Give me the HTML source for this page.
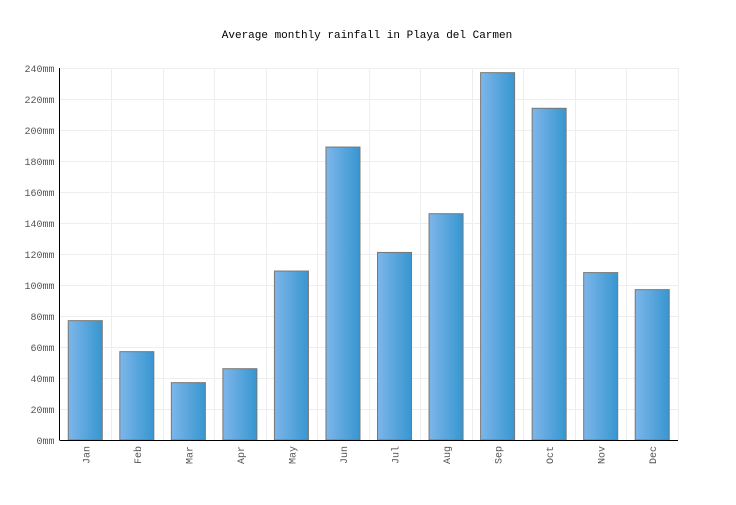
<!DOCTYPE html>
<html><head><meta charset="utf-8"><style>
body{margin:0;background:#fff}
text{font-family:"Liberation Mono",monospace}
</style></head><body>
<svg id="c" width="736" height="500" xmlns="http://www.w3.org/2000/svg">
<defs><linearGradient id="g" x1="0" x2="1" y1="0" y2="0"><stop offset="0" stop-color="#7db6ea"/><stop offset="1" stop-color="#3796d0"/></linearGradient></defs>
<text x="367" y="38" text-anchor="middle" font-size="11" fill="#000">Average monthly rainfall in Playa del Carmen</text>
<g id="grid"></g><g id="bars"></g><g id="axes"></g>
</svg>
<script>
const categories=["Jan","Feb","Mar","Apr","May","Jun","Jul","Aug","Sep","Oct","Nov","Dec"];
const rainfall=[77,57,37,46,109,189,121,146,237,214,108,97];
const yTicks=[0,20,40,60,80,100,120,140,160,180,200,220,240];
const NS="http://www.w3.org/2000/svg";
const L=59.5,R=678,T=68,B=440,yMax=240;
const y=v=>B-(v/yMax)*(B-T);
const band=(R-L)/categories.length;
const x=i=>L+i*band;
function mk(t,a,p){const e=document.createElementNS(NS,t);for(const k in a)e.setAttribute(k,a[k]);p.appendChild(e);return e;}
const grid=document.getElementById('grid'),bars=document.getElementById('bars'),axes=document.getElementById('axes');
yTicks.forEach(v=>{
 const ln=mk('line',{x1:L,x2:R,y1:Math.round(y(v))+0.5,y2:Math.round(y(v))+0.5,stroke:'#eeeeee'},grid);
 
 
 const t=mk('text',{x:L-5,y:y(v)+4,'text-anchor':'end','font-size':'10',fill:'#555'},axes);
 t.textContent=v+'mm';
 
 
});
for(let i=1;i<=categories.length;i++){
 const ln=mk('line',{x1:Math.round(x(i))+0.5,x2:Math.round(x(i))+0.5,y1:T,y2:B,stroke:'#eeeeee'},grid);
 
 
}
categories.forEach((c,i)=>{
 const bw=band*0.66,cx=x(i)+band/2;
 const r=mk('rect',{x:cx-bw/2,y:y(rainfall[i]),width:bw,height:B-y(rainfall[i]),fill:'url(#g)',stroke:'#777','stroke-width':1},bars);
 
 
 const t=mk('text',{x:0,y:0,transform:`translate(${cx+4},${B+6}) rotate(-90)`,'text-anchor':'end','font-size':'10',fill:'#555'},axes);
 t.textContent=c;
 
 
});
const ya=mk('line',{x1:L,x2:L,y1:T,y2:B,stroke:'#000'},axes);


const xa=mk('line',{x1:L,x2:R,y1:B+0.5,y2:B+0.5,stroke:'#000'},axes);


</script>
</body></html>
